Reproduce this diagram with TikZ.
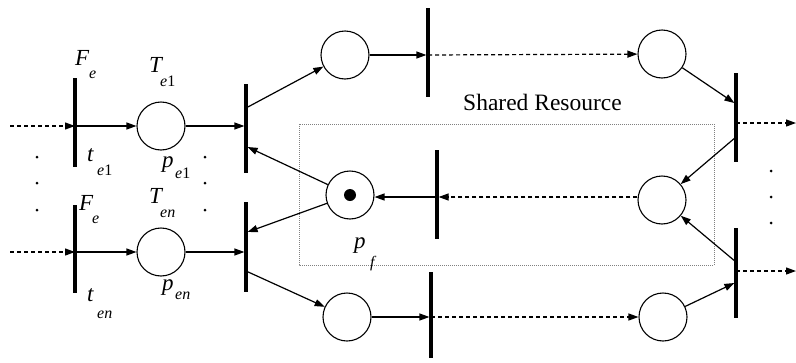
\documentclass[tikz,border=0pt]{standalone}
\usepackage{fontspec}
\setmainfont{Liberation Serif}
\usetikzlibrary{arrows.meta}
\tikzset{
  place/.style={circle,draw,line width=1.1pt,minimum size=48pt,inner sep=0pt},
  tbar/.style={rectangle,fill=black,minimum width=3.2pt,inner sep=0pt,outer sep=0pt},
  arc/.style={line width=1.2pt,-{Triangle[length=10pt,width=7pt]}},
  darc/.style={arc,dash pattern=on 4pt off 3pt},
  lab/.style={anchor=base west,inner sep=0pt,font=\fontsize{23}{23}\selectfont\itshape},
  sub/.style={anchor=base west,inner sep=0pt,font=\fontsize{16}{16}\selectfont\itshape},
  dotn/.style={circle,fill=black,minimum size=3pt,inner sep=0pt}
}
\begin{document}
\begin{tikzpicture}[x=1pt,y=-1pt]
\useasboundingbox (0,0) rectangle (796,362);
% shared resource box
\draw[gray,line width=0.8pt,dash pattern=on 1pt off 1pt] (299,124) rectangle (714,265);
\node[anchor=base west,inner sep=0pt,font=\fontsize{23.5}{23.5}\selectfont] (sr) at (463,110) {Shared Resource};
% transitions
\node[tbar,minimum height=89pt] (tA1) at (75,122.5) {};
\node[tbar,minimum height=88pt] (tA2) at (75,249) {};
\node[tbar,minimum height=89pt] (tB1) at (246,128.5) {};
\node[tbar,minimum height=90pt] (tB2) at (246,247) {};
\node[tbar,minimum height=89pt] (tC1) at (428,52.5) {};
\node[tbar,minimum height=86pt] (tC2) at (431,315) {};
\node[tbar,minimum height=89pt] (tF) at (437,194.5) {};
\node[tbar,minimum height=89pt] (tR1) at (736,117.5) {};
\node[tbar,minimum height=90pt] (tR2) at (736,273) {};
% places
\node[place] (pe1) at (161,126) {};
\node[place] (pen) at (161,252) {};
\node[place] (pT) at (345,55) {};
\node[place] (pB) at (347,317) {};
\node[place] (pf) at (350,195) {};
\node[place] (pTR) at (662,54) {};
\node[place] (pMR) at (662,200) {};
\node[place] (pBR) at (663,317) {};
\node[circle,fill=black,minimum size=12pt,inner sep=0pt] (tok) at (pf) {};
% free ends
\coordinate (inA1) at (10,126);
\coordinate (inA2) at (10,252);
\coordinate (out1) at (796,123);
\coordinate (out2) at (796,271);
% arcs
\draw[darc] (inA1) -- (tA1.center |- inA1);
\draw[darc] (inA2) -- (tA2.center |- inA2);
\draw[arc] (tA1.center |- pe1) -- (pe1);
\draw[arc] (tA2.center |- pen) -- (pen);
\draw[arc] (pe1) -- (tB1.west |- pe1);
\draw[arc] (pen) -- (tB2.west |- pen);
\draw[arc] (tB1.center |- 0,108) -- (pT);
\draw[arc] (pT) -- (tC1.west |- pT);
\draw[darc] (tC1.center |- pT) -- (pTR);
\draw[arc] (pTR) -- (tR1.west |- 0,103);
\draw[darc] (tR1.center |- out1) -- (out1);
\draw[arc] (tR1.center |- 0,137) -- (pMR);
\draw[arc] (tR2.center |- 0,262) -- (pMR);
\draw[darc] (tR2.center |- out2) -- (out2);
\draw[darc] (pMR.west |- 0,197) -- (tF.east |- 0,197);
\draw[arc] (tF.center |- 0,197) -- (pf.east |- 0,197);
\draw[arc] (pf) -- (tB1.east |- 0,147);
\draw[arc] (pf) -- (tB2.east |- 0,232);
\draw[arc] (tB2.center |- 0,271) -- (pB);
\draw[arc] (pB) -- (tC2.west |- pB);
\draw[darc] (tC2.center |- pB) -- (pBR);
\draw[arc] (pBR) -- (tR2.west |- 0,283);
% dots
\foreach \i/\yy in {1/157,2/183,3/210}{
  \node[dotn] (dl\i) at (37,\yy) {};
  \node[dotn] (dm\i) at (205,\yy) {};
}
\foreach \i/\yy in {1/171,2/197,3/223}{
  \node[dotn] (dr\i) at (771,\yy) {};
}
% labels
\node[lab] (F1) at (75,65) {F};   \node[sub] (F1s) at (89,78) {e};
\node[lab] (T1) at (149,72) {T};  \node[sub] (T1s) at (160,86) {e\upshape1};
\node[lab] (t1) at (87,161) {t};  \node[sub] (t1s) at (97,175) {e\upshape1};
\node[lab] (p1) at (162,167) {p}; \node[sub] (p1s) at (175,178) {e\upshape1};
\node[lab] (F2) at (79,210) {F};  \node[sub] (F2s) at (92,223) {e};
\node[lab] (T2) at (149,203) {T}; \node[sub] (T2s) at (160,217) {en};
\node[lab] (t2) at (87,301) {t};  \node[sub] (t2s) at (97,318) {en};
\node[lab] (p2) at (162,290) {p}; \node[sub] (p2s) at (175,299) {en};
\node[lab] (pfl) at (354,248) {p}; \node[sub] (pfs) at (370,267) {f};
\end{tikzpicture}
\end{document}
